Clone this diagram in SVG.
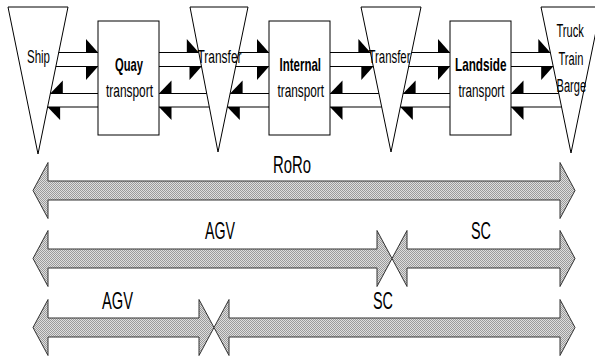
<svg xmlns="http://www.w3.org/2000/svg" width="595" height="360" viewBox="0 0 595 360">
<defs>
<pattern id="dots" width="2" height="2" patternUnits="userSpaceOnUse">
<rect width="2" height="2" fill="#dedede"/>
<rect x="0" y="0" width="1" height="1" fill="#9a9a9a"/>
<rect x="1" y="1" width="1" height="1" fill="#9a9a9a"/>
</pattern>
</defs>
<style>
.tri{fill:none;stroke:#000;stroke-width:1}
.box{fill:#fff;stroke:#000;stroke-width:1}
.ln{fill:none;stroke:#000;stroke-width:1.2}
.hd{fill:#000;stroke:none}
.bar{fill:url(#dots);stroke:#333;stroke-width:1}
.t{font-family:"Liberation Sans",Arial,sans-serif;font-size:18.5px;fill:#000}
.b{font-weight:bold}
.L{font-family:"Liberation Sans",Arial,sans-serif;font-size:24px;fill:#000}
</style>
<rect width="595" height="360" fill="#fff"/>

<g id="connectors">
<path class="ln" d="M58.7 52.5H98M55.9 66.5H98M98 93.5H50.3M98 107H47.6"/>
<polygon class="hd" points="86,39 98,52.5 86,52.5"/>
<polygon class="hd" points="86,66.5 98,66.5 86,80"/>
<polygon class="hd" points="62.8,80.5 50.3,93.5 62.8,93.5"/>
<polygon class="hd" points="60.1,107 47.6,107 60.1,120"/>

<path class="ln" d="M159 52.5H198.8M159 66.5H201.5M206.7 93.5H159M209.3 107H159"/>
<polygon class="hd" points="186.8,39 198.8,52.5 186.8,52.5"/>
<polygon class="hd" points="189.5,66.5 201.5,66.5 189.5,80"/>
<polygon class="hd" points="171.5,80.5 159,93.5 171.5,93.5"/>
<polygon class="hd" points="171.5,107 159,107 171.5,120"/>

<path class="ln" d="M238.6 52.5H269M235.7 66.5H269M269 93.5H230.1M269 107H227.3"/>
<polygon class="hd" points="257,39 269,52.5 257,52.5"/>
<polygon class="hd" points="257,66.5 269,66.5 257,80"/>
<polygon class="hd" points="242.6,80.5 230.1,93.5 242.6,93.5"/>
<polygon class="hd" points="239.8,107 227.3,107 239.8,120"/>

<path class="ln" d="M330 52.5H370.4M330 66.5H373.3M378.9 93.5H330M381.7 107H330"/>
<polygon class="hd" points="358.4,39 370.4,52.5 358.4,52.5"/>
<polygon class="hd" points="361.3,66.5 373.3,66.5 361.3,80"/>
<polygon class="hd" points="342.5,80.5 330,93.5 342.5,93.5"/>
<polygon class="hd" points="342.5,107 330,107 342.5,120"/>

<path class="ln" d="M411.6 52.5H450M408.7 66.5H450M450 93.5H403.1M450 107H400.3"/>
<polygon class="hd" points="438,39 450,52.5 438,52.5"/>
<polygon class="hd" points="438,66.5 450,66.5 438,80"/>
<polygon class="hd" points="415.6,80.5 403.1,93.5 415.6,93.5"/>
<polygon class="hd" points="412.8,107 400.3,107 412.8,120"/>

<path class="ln" d="M511 52.5H550.3M511 66.5H553.2M558.8 93.5H511M561.5 107H511"/>
<polygon class="hd" points="538.3,39 550.3,52.5 538.3,52.5"/>
<polygon class="hd" points="541.2,66.5 553.2,66.5 541.2,80"/>
<polygon class="hd" points="523.5,80.5 511,93.5 523.5,93.5"/>
<polygon class="hd" points="523.5,107 511,107 523.5,120"/>
</g>

<g id="ship">
<polygon class="tri" points="8,7 68,7 38,154"/>
<text class="t" x="27" y="62.5" textLength="23" lengthAdjust="spacingAndGlyphs">Ship</text>
</g>
<g id="quay">
<rect class="box" x="98" y="21" width="61" height="114"/>
<text class="t b" x="115" y="70.5" textLength="28" lengthAdjust="spacingAndGlyphs">Quay</text>
<text class="t" x="106" y="96.5" textLength="47" lengthAdjust="spacingAndGlyphs">transport</text>
</g>
<g id="transfer1">
<polygon class="tri" points="190,7 248,7 218,152"/>
<text class="t" x="197.5" y="63" textLength="44" lengthAdjust="spacingAndGlyphs">Transfer</text>
</g>
<g id="internal">
<rect class="box" x="269" y="21" width="61" height="114"/>
<text class="t b" x="279.5" y="71" textLength="41.5" lengthAdjust="spacingAndGlyphs">Internal</text>
<text class="t" x="277.5" y="96.5" textLength="46.5" lengthAdjust="spacingAndGlyphs">transport</text>
</g>
<g id="transfer2">
<polygon class="tri" points="361,7 421,7 391,152"/>
<text class="t" x="368.5" y="63" textLength="42" lengthAdjust="spacingAndGlyphs">Transfer</text>
</g>
<g id="landside">
<rect class="box" x="450" y="21" width="61" height="114"/>
<text class="t b" x="455" y="71" textLength="51.5" lengthAdjust="spacingAndGlyphs">Landside</text>
<text class="t" x="458.5" y="96.5" textLength="46" lengthAdjust="spacingAndGlyphs">transport</text>
</g>
<g id="hinterland">
<polygon class="tri" points="541,7 601,7 571,153"/>
<text class="t" transform="translate(556.5,37) scale(0.6,1)">Truck</text>
<text class="t" transform="translate(558.5,65) scale(0.6,1)">Train</text>
<text class="t" transform="translate(556.5,91.5) scale(0.6,1)">Barge</text>
</g>

<g id="roro">
<polygon class="bar" points="33,190.5 48,162.5 48,181 560,181 560,162.5 575,190.5 560,218.5 560,200 48,200 48,218.5"/>
<text class="L" x="273" y="173" textLength="38" lengthAdjust="spacingAndGlyphs">RoRo</text>
</g>
<g id="agv-row2">
<polygon class="bar" points="33,258.5 48,230.5 48,249 377,249 377,230.5 392,258.5 377,286.5 377,268 48,268 48,286.5"/>
<text class="L" x="205" y="238.5" textLength="30" lengthAdjust="spacingAndGlyphs">AGV</text>
</g>
<g id="sc-row2">
<polygon class="bar" points="392,258.5 407,230.5 407,249 560,249 560,230.5 575,258.5 560,286.5 560,268 407,268 407,286.5"/>
<text class="L" x="471" y="238.5" textLength="20" lengthAdjust="spacingAndGlyphs">SC</text>
</g>
<g id="agv-row3">
<polygon class="bar" points="33,327.5 48,299.5 48,318 199,318 199,299.5 214,327.5 199,355.5 199,337 48,337 48,355.5"/>
<text class="L" x="102" y="308.5" textLength="31" lengthAdjust="spacingAndGlyphs">AGV</text>
</g>
<g id="sc-row3">
<polygon class="bar" points="214,327.5 229,299.5 229,318 560,318 560,299.5 575,327.5 560,355.5 560,337 229,337 229,355.5"/>
<text class="L" x="373" y="309" textLength="20" lengthAdjust="spacingAndGlyphs">SC</text>
</g>
</svg>
